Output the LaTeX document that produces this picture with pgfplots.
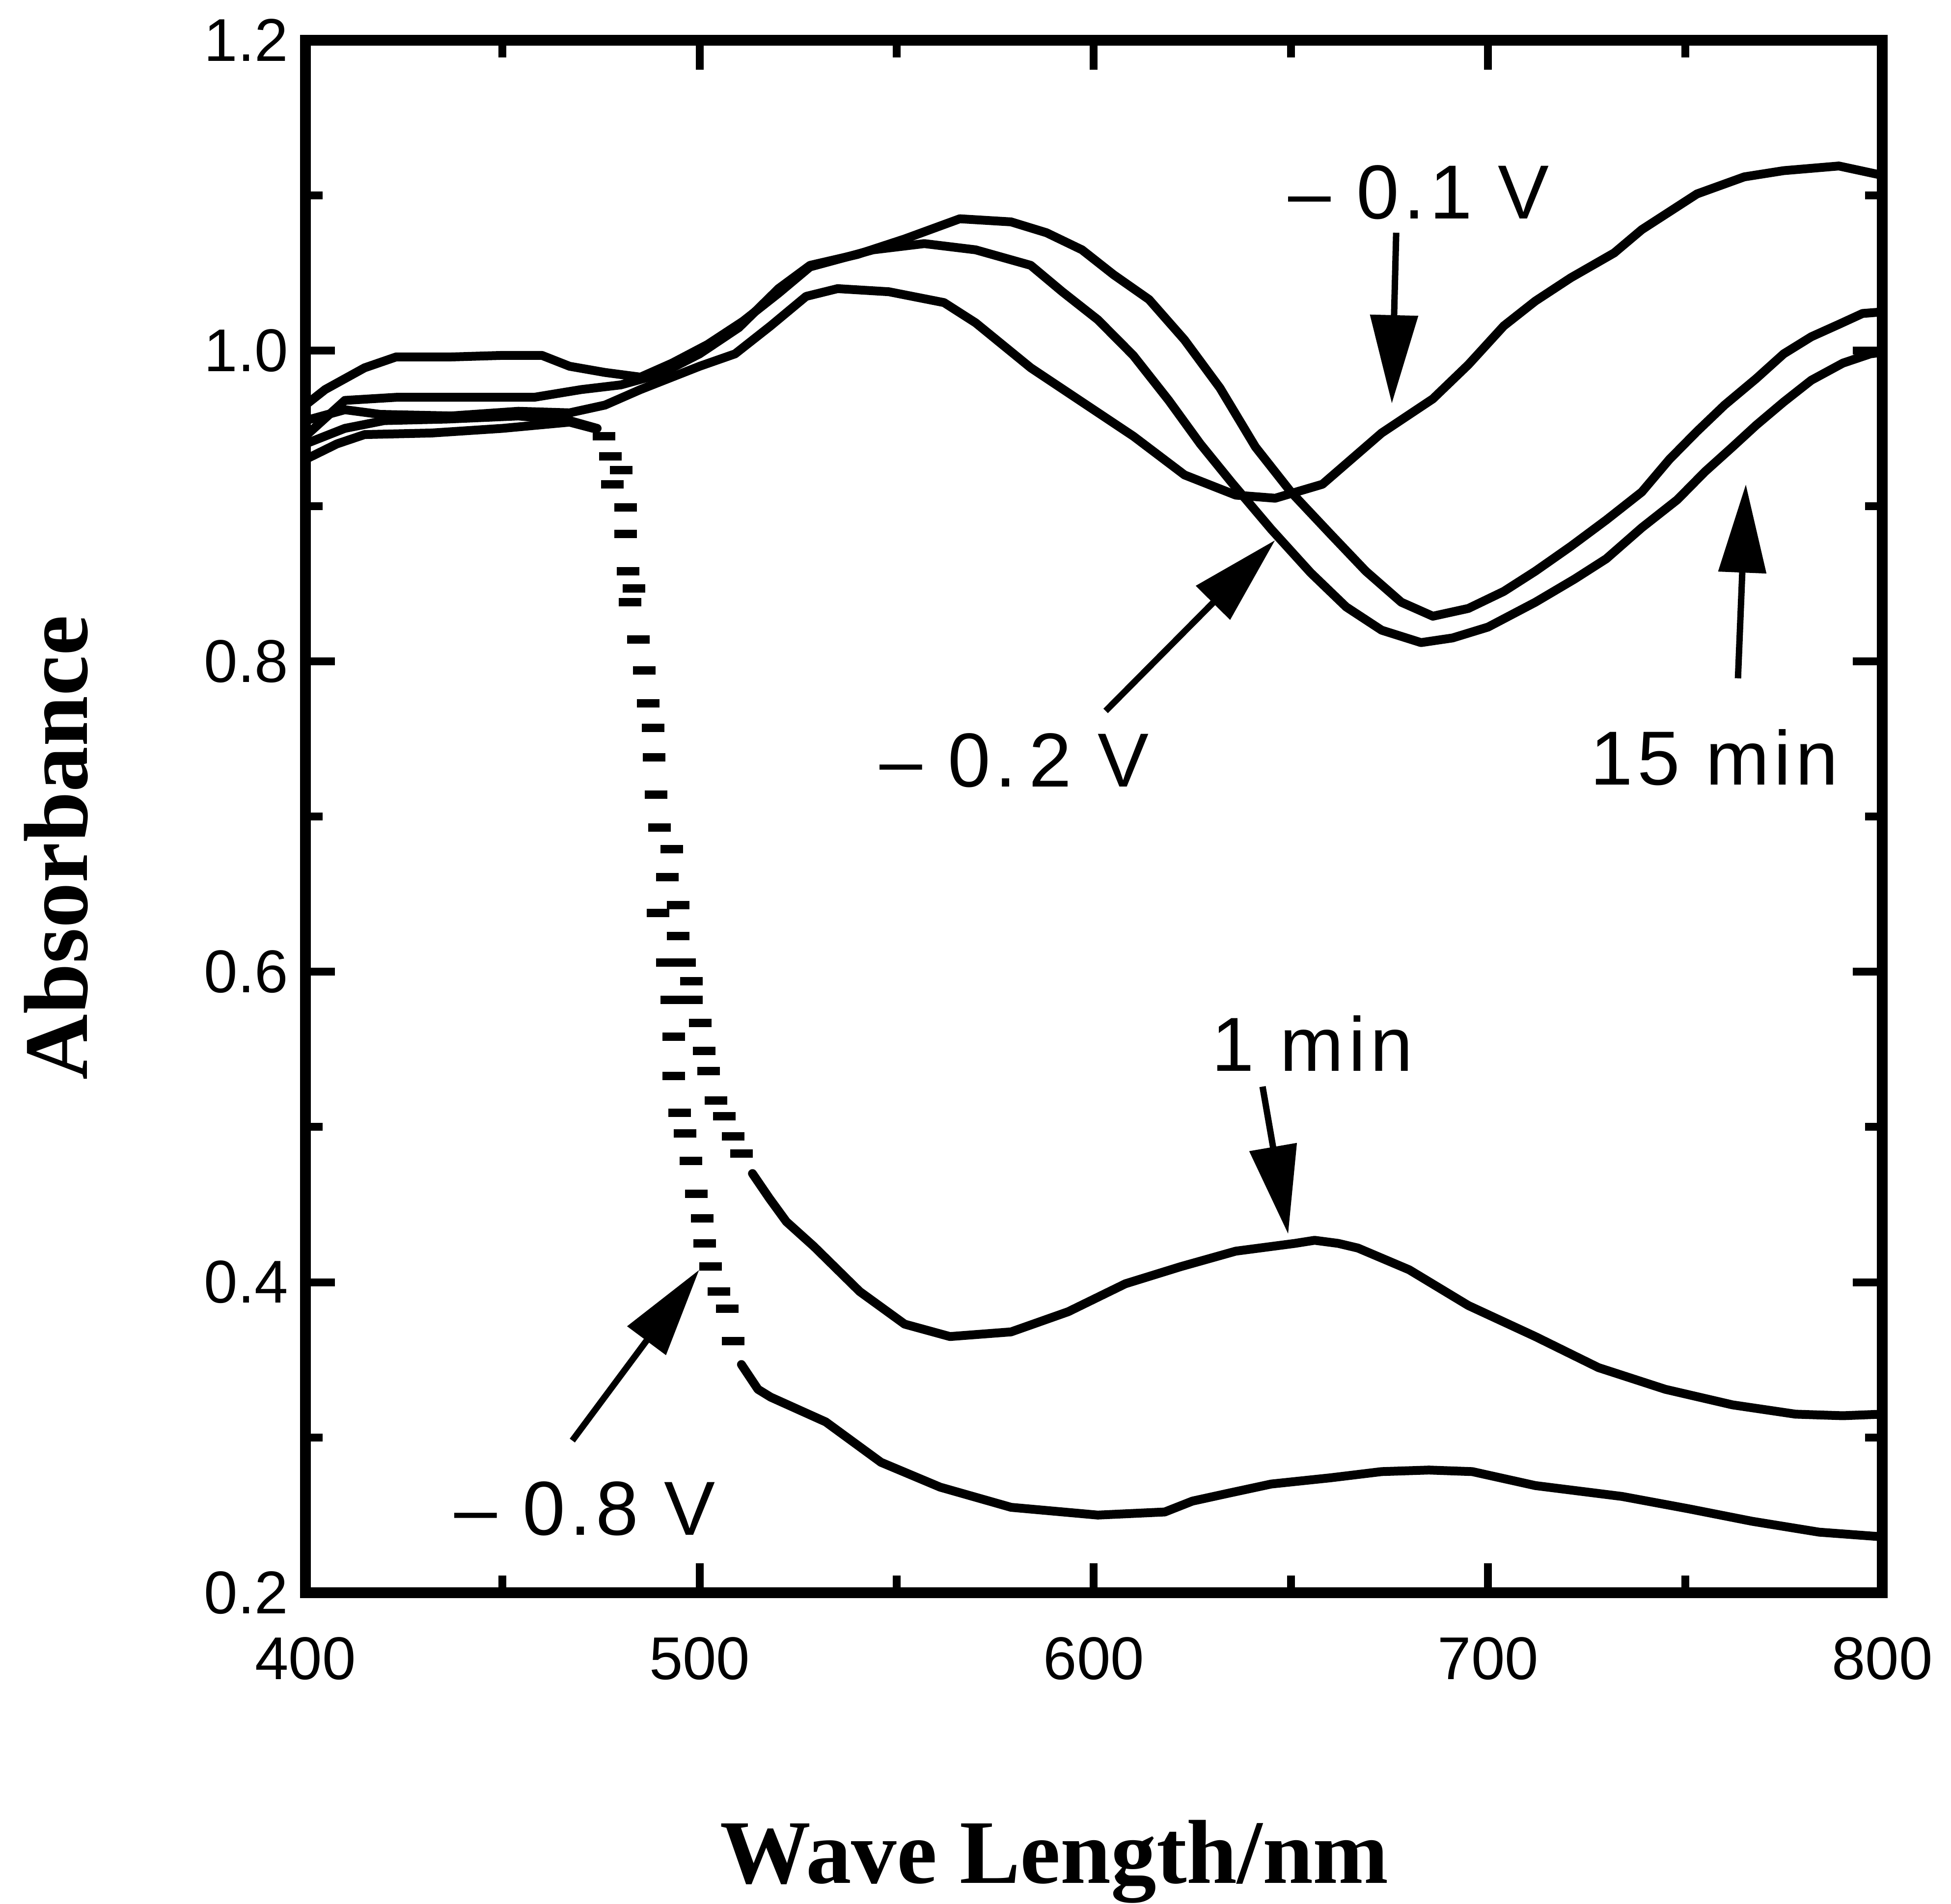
\documentclass[border=0pt]{standalone}
\usepackage{pgfplots}
\pgfplotsset{compat=1.18}
\usetikzlibrary{arrows.meta}
\usepackage{fontspec}
\setmainfont{Liberation Serif}
\newfontfamily\ticksf{Liberation Sans}
\newfontfamily\annot[LetterSpace=6]{Liberation Sans}

\tikzset{
    cv/.style={black, line width=1.8pt, line join=round, line cap=round},
    dots/.style={black, only marks, mark=-, mark size=2.3pt, mark options={line width=1.7pt}},
    arr/.style={black, line width=1.3pt, -{Triangle[length=18pt, width=9.5pt]}},
    lab/.style={font=\annot\fontsize{15.6}{17}\selectfont, inner sep=0pt},
}

\begin{document}
\begin{tikzpicture}
\begin{axis}[
    scale only axis,
    width=321.1pt, height=316.2pt,
    xmin=400, xmax=800, ymin=0.2, ymax=1.2,
    xtick={400,500,600,700,800},
    ytick={0.2,0.4,0.6,0.8,1.0,1.2},
    minor x tick num=1, minor y tick num=1,
    tick align=inside,
    major tick length=6pt, minor tick length=3.5pt,
    axis line style={line width=2.2pt},
    every tick/.style={black, line width=1.6pt},
    /pgf/number format/assume math mode=true,
    y tick label style={/pgf/number format/.cd, fixed, fixed zerofill, precision=1},
    tick label style={font=\ticksf\fontsize{12.3}{14}\selectfont},
    xticklabel style={yshift=-5.5pt},
    xlabel={Wave Length/nm},
    ylabel={Absorbance},
    every axis x label/.style={at={(axis description cs:0.475,-0.1872)}, anchor=base,
        inner sep=0pt, font=\bfseries\fontsize{18.5}{20}\selectfont},
    every axis y label/.style={at={(axis description cs:-0.1582,0.48)}, rotate=90, anchor=center,
        inner sep=0pt, font=\bfseries\fontsize{18.5}{20}\selectfont},
    clip=false,
]

% -0.1 V
\addplot[cv] coordinates {
(400,0.955) (410,0.962) (419,0.959) (437,0.958) (454,0.961) (467,0.960)
(476,0.965) (485,0.975) (493,0.983) (500,0.990) (509,0.998) (518,1.016)
(527,1.035) (535,1.040) (548,1.038) (562,1.031) (570,1.018) (584,0.989)
(597,0.967) (610,0.945) (623,0.920) (636,0.907) (646,0.905) (658,0.914)
(673,0.947) (686,0.969) (695,0.991) (704,1.016) (712,1.032) (721,1.047)
(732,1.063) (739,1.078) (753,1.101) (765,1.112) (775,1.116) (789,1.119)
(800,1.113)
};

% intermediate
\addplot[cv] coordinates {
(400,0.965) (405,0.975) (415,0.989) (423,0.996) (437,0.996) (450,0.997)
(460,0.997) (467,0.990) (476,0.986) (485,0.983) (493,0.992) (502,1.004)
(511,1.019) (520,1.037) (528,1.054) (544,1.065) (557,1.069) (570,1.065)
(584,1.055) (592,1.038) (601,1.020) (610,0.997) (619,0.968) (627,0.940)
(635,0.915) (645,0.885) (655,0.857) (664,0.835)
(673,0.820) (683,0.812) (691,0.815) (700,0.822) (712,0.838) (722,0.853)
(730,0.866) (739,0.886) (748,0.904) (755,0.922) (762,0.938) (768,0.952)
(775,0.967) (782,0.981) (790,0.992) (797,0.998) (800,0.999)
};

% 15 min
\addplot[cv] coordinates {
(400,0.945) (410,0.968) (423,0.970) (441,0.970) (458,0.970) (470,0.975)
(480,0.978) (490,0.985) (500,0.998) (510,1.015) (520,1.040) (528,1.055)
(540,1.062) (552,1.072) (566,1.085) (579,1.083) (588,1.076) (597,1.065)
(605,1.049) (614,1.033) (623,1.007) (632,0.976) (641,0.938) (650,0.909)
(660,0.882) (669,0.858) (678,0.838) (686,0.829) (695,0.834) (704,0.845)
(712,0.858) (721,0.874) (730,0.891) (739,0.909) (746,0.930) (753,0.948)
(760,0.965) (768,0.982) (775,0.998) (782,1.009) (789,1.017) (795,1.024)
(800,1.025)
};

% 1 min
\addplot[cv] coordinates {
(400,0.940) (410,0.950) (420,0.955) (436,0.956) (454,0.958) (467,0.955) (474,0.950)
};
\addplot[cv] coordinates {
(513.4,0.470) (517.7,0.454) (522,0.439) (529,0.423) (540.6,0.394) (552,0.373)
(563.5,0.365) (579,0.368) (593.5,0.381) (608,0.399) (622,0.410) (636,0.420)
(651,0.425) (656,0.427) (662,0.425) (667,0.422) (680,0.408) (695,0.385)
(712,0.365) (728,0.345) (745,0.331) (762,0.321) (778,0.315) (790,0.314)
(800,0.315)
};

% -0.8 V
\addplot[cv] coordinates {
(400,0.930) (408,0.940) (415,0.946) (432,0.947) (450,0.950) (467,0.954) (473,0.950)
};
\addplot[cv] coordinates {
(510.6,0.347) (514.8,0.331) (518,0.326) (532,0.310) (546,0.284) (561,0.268)
(579,0.255) (601,0.250) (618,0.252) (625,0.259) (634,0.264) (645,0.270)
(660,0.274) (673,0.278) (685,0.279) (696,0.278) (712,0.269) (734,0.262)
(751,0.254) (767,0.246) (784,0.239) (800,0.236)
};

% sparse points of the fast drop
\addplot[dots] coordinates {
(475.7,0.945) (477.3,0.932) (480.1,0.923) (477.9,0.914) (481.2,0.899)
(481.2,0.882) (481.8,0.858) (483.4,0.847) (482.3,0.838) (484.5,0.814)
(485.9,0.794) (487.0,0.773) (488.2,0.757) (488.4,0.738) (489.0,0.714)
(489.8,0.693)
};
\addplot[dots] coordinates {
(492.9,0.679) (494.5,0.643) (494.5,0.623) (496.2,0.606) (497.9,0.594)
(497.9,0.582) (500.1,0.567) (501.2,0.549) (502.3,0.536) (504.2,0.517)
(506.3,0.507) (508.5,0.494) (510.6,0.483)
};
\addplot[dots] coordinates {
(491.8,0.661) (489.5,0.638) (491.8,0.606) (492.9,0.582) (493.4,0.558)
(493.4,0.533) (494.9,0.509) (496.3,0.496) (497.8,0.478) (499.2,0.457)
(500.6,0.441) (501.3,0.425) (502.8,0.410) (504.9,0.394) (507.0,0.383)
(508.5,0.362)
};

% labels and arrows
\draw[arr] (axis cs:676.7,1.076) -- (axis cs:675.6,0.966);
\node[lab] at (axis cs:682.4,1.102) {– 0.1 V};
\draw[arr] (axis cs:603,0.768) -- (axis cs:646,0.878);
\node[lab] at (axis cs:579.8,0.736) {– 0.\,2 V};
\draw[arr] (axis cs:763.4,0.789) -- (axis cs:765.4,0.914);
\node[lab] at (axis cs:757.4,0.738) {15 min};
\draw[arr] (axis cs:642.8,0.526) -- (axis cs:649.3,0.431);
\node[lab] at (axis cs:655.4,0.554) {1 min};
\draw[arr] (axis cs:467.7,0.298) -- (axis cs:499.9,0.408);
\node[lab] at (axis cs:470.9,0.254) {– 0.8 V};

\path ([shift={(-62.2pt,-63.4pt)}]rel axis cs:0,0) rectangle ([shift={(14pt,8.2pt)}]rel axis cs:1,1);
\end{axis}
\end{tikzpicture}
\end{document}
